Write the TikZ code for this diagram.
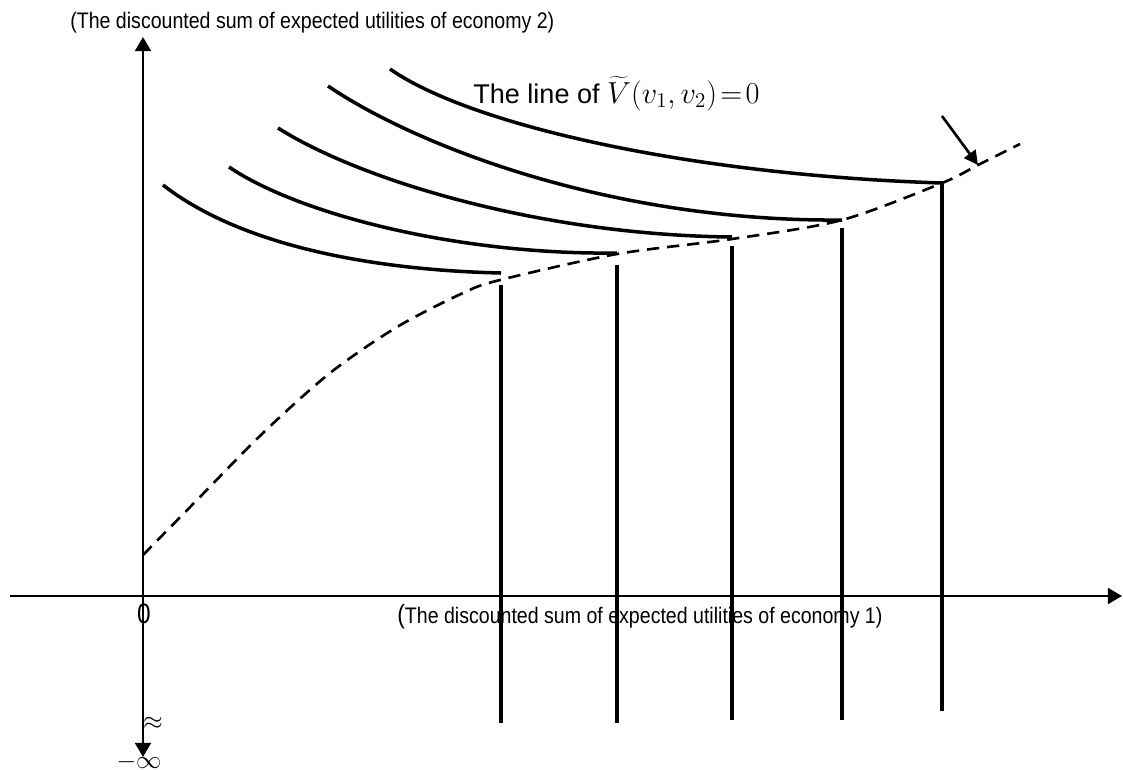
\documentclass[tikz,border=0pt]{standalone}
\usepackage[no-math]{fontspec}
\setmainfont{Liberation Sans}
\newfontfamily\narrowsans[FakeStretch=0.87]{Liberation Sans}
\usetikzlibrary{arrows.meta}

\begin{document}
\begin{tikzpicture}[x=0.02cm,y=-0.02cm,line join=round,
  axis/.style={line width=1.4pt,-{Triangle[length=8pt,width=9pt]}},
  level/.style={line width=2pt},
  border/.style={line width=1.5pt,dash pattern=on 7pt off 4.5pt},
  axislabel/.style={font=\narrowsans\fontsize{12.8}{14}\selectfont,inner sep=0pt}]
\useasboundingbox (0,0) rectangle (1123,769);

\coordinate (O) at (143,596);
\coordinate (Xl) at (10,596);
\coordinate (Xr) at (1122,596);
\coordinate (Yt) at (143,37);
\coordinate (Yb) at (143,757);

% axes
\draw[axis] (Xl) -- (Xr);
\draw[axis] (O) -- (Yt);
\draw[axis] (O) -- (Yb);

% level curves
\draw[level] (163,185) .. controls (240,245) and (370,270) .. (501,273);
\draw[level] (229,167) .. controls (300,215) and (460,255) .. (617,253);
\draw[level] (278,128) .. controls (360,180) and (540,235) .. (732,237);
\draw[level] (328,86) .. controls (415,145) and (610,222) .. (842,220);
\draw[level] (390,69) .. controls (470,125) and (690,175) .. (942,183);

% vertical lines
\draw[level] (501,285) -- (501,723);
\draw[level] (617,265) -- (617,723);
\draw[level] (732,246) -- (732,720);
\draw[level] (842,228) -- (842,720);
\draw[level] (942,184) -- (942,711);

% the line V=0
\draw[border] plot[smooth] coordinates {(143,555) (197,500) (263,433) (330,373) (397,327)
  (463,293) (500,280) (617,254) (732,239) (842,220) (942,183) (978,165) (1020,144)};

\coordinate (Ptail) at (942,116);
\coordinate (Ptip) at (978,165);
\draw[line width=1.5pt,-{Triangle[length=8pt,width=8pt]}] (Ptail) -- (Ptip);

% labels
\node[axislabel,anchor=base west] (ylab) at (70,28) {(The discounted sum of expected utilities of economy 2)};
\node[axislabel,anchor=base west] (xlab) at (397,623)
  {{\fontsize{15}{15}\selectfont(}The discounted sum of expected utilities of economy 1)};
\node[font=\narrowsans\fontsize{16}{16}\selectfont,inner sep=0pt,anchor=base] (zero) at (144,623) {0};
\node[inner sep=0pt,font=\fontsize{15.4}{17}\selectfont,anchor=base west] (vlab) at (473,103)
  {The line of {\fontsize{17.5}{19}\selectfont$\widetilde{V}\bigl(v_1,v_2\bigr)\!=\!0$}};
\node[inner sep=0pt,font=\fontsize{14}{14}\selectfont] (approx) at (153,723) {$\approx$};
\node[inner sep=0pt,font=\fontsize{14}{14}\selectfont] (minf) at (139,762) {$-\infty$};

\end{tikzpicture}
\end{document}
